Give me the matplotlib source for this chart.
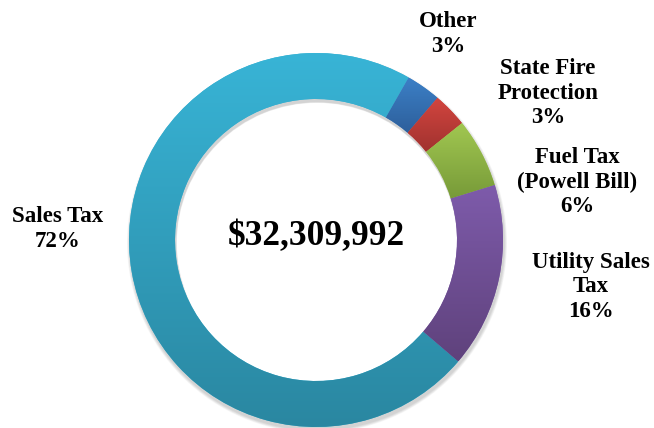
import numpy as np
import matplotlib.pyplot as plt
from matplotlib.colors import LinearSegmentedColormap
from matplotlib.patches import Wedge

# revenue sources, percent of total
sources = ['Sales Tax', 'Other', 'State Fire\nProtection', 'Fuel Tax\n(Powell Bill)', 'Utility Sales\nTax']
shares = [72, 3, 3, 6, 16]
total_label = '$32,309,992'

# gradient fill per slice: top colour, bottom colour
top_colors = ['#38b4d6', '#3c80c7', '#d3453f', '#a1c751', '#7e5bab']
bottom_colors = ['#2a87a1', '#2d5f9b', '#a0322f', '#779a38', '#5f427c']

# label centres in pixel space (x right, y down)
label_xy = [(58, 229), (448, 34), (548, 93), (577, 182), (591, 287)]

W, H = 654, 428
fig = plt.figure(figsize=(W / 100, H / 100), dpi=100)
ax = fig.add_axes([0, 0, 1, 1])

cx, cy = 316, H - 240
r, ring = 187, 46

# soft drop shadow beneath the ring
for d in range(1, 6):
    ax.add_patch(Wedge((cx + 1, cy - 3), r + d * 0.6, 0, 360, width=ring + d * 0.8,
                       facecolor='black', alpha=0.035, linewidth=0, zorder=0))

wedges, _ = ax.pie(shares, center=(cx, cy), radius=r, startangle=-40.5,
                   counterclock=False, colors=top_colors, frame=True,
                   wedgeprops=dict(width=ring, linewidth=0))

grad = np.linspace(0, 1, 256).reshape(-1, 1)
for w, c0, c1 in zip(wedges, top_colors, bottom_colors):
    w.set_zorder(1)
    ext = w.get_path().get_extents()
    cmap = LinearSegmentedColormap.from_list('g', [c1, c0])
    im = ax.imshow(grad, extent=[ext.x0, ext.x1, ext.y0, ext.y1], origin='lower',
                   cmap=cmap, aspect='auto', zorder=2, interpolation='bilinear')
    im.set_clip_path(w)

font = dict(family='Liberation Serif', weight='bold', color='black')
for name, pct, (x, y) in zip(sources, shares, label_xy):
    ax.text(x, H - y, f'{name}\n{pct}%', ha='center', va='center',
            fontsize=16.5, linespacing=1.2, **font)

ax.text(cx, H - 237, total_label, ha='center', va='center', fontsize=25.5, **font)

ax.set_xlim(0, W)
ax.set_ylim(0, H)
ax.set_aspect('equal')
ax.axis('off')

fig.savefig('out.png', dpi=100, facecolor='white')
